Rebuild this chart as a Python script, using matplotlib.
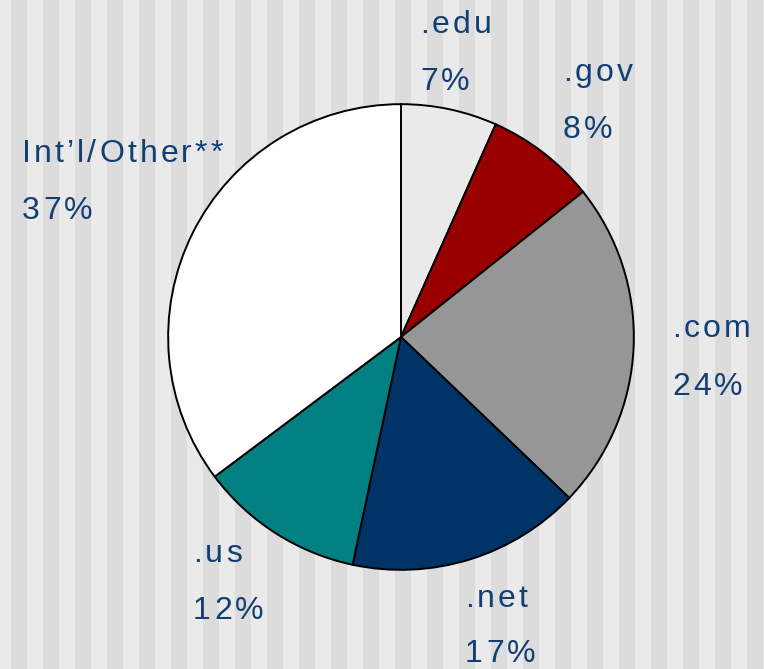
import matplotlib.pyplot as plt
from matplotlib.font_manager import FontProperties, findfont
from matplotlib.ft2font import FT2Font, LoadFlags

labels = ['.edu', '.gov', '.com', '.net', '.us', "Int\u2019l/Other**"]
pct = [7, 8, 24, 17, 12, 37]
colors = ['#eaeaea', '#990000', '#969696', '#003366', '#008080', '#ffffff']

W, H = 764, 669
fig = plt.figure(figsize=(W / 100, H / 100), dpi=100)
fig.patch.set_facecolor('#eaeaea')

# striped background
bg = fig.add_axes([0, 0, 1, 1])
bg.set_xlim(0, W)
bg.set_ylim(0, H)
bg.axis('off')
for x0 in range(11, W, 32):
    bg.axvspan(x0, x0 + 16, color='#dcdcdc', lw=0)

# pie, centre (401, 337) px, radius 234 px
cx, cy, r = 401, 337, 234
ax = fig.add_axes([(cx - r) / W, (H - cy - r) / H, 2 * r / W, 2 * r / H])
ax.pie(pct, colors=colors, startangle=90, counterclock=False,
       wedgeprops=dict(edgecolor='black', linewidth=1.4))
ax.set_xlim(-1.005, 1.005)
ax.set_ylim(-1.005, 1.005)
ax.set_aspect('equal')

# labels drawn char by char to get the wide letter spacing
FS = 23
TRACK = 3.1
txt_color = '#123f73'
font = FT2Font(findfont(FontProperties(family='Liberation Sans')))
font.set_size(FS, 100)


def tracked_text(x, y, s):
    for ch in s:
        fig.text(x / W, 1 - y / H, ch, fontsize=FS, color=txt_color,
                 family='Liberation Sans', va='baseline', ha='left')
        g = font.load_char(ord(ch), flags=LoadFlags.NO_HINTING)
        x += g.linearHoriAdvance / 65536 + TRACK


# label positions in pixels: (x, name baseline, percent baseline)
label_pos = [(420, 33, 90), (563, 81, 138), (672, 337, 395),
             (465, 607, 662), (193, 562, 619), (22, 162, 219)]
for lab, p, (x, y1, y2) in zip(labels, pct, label_pos):
    tracked_text(x, y1, lab)
    tracked_text(x, y2, f'{p}%')

fig.savefig('out.png', dpi=100)
